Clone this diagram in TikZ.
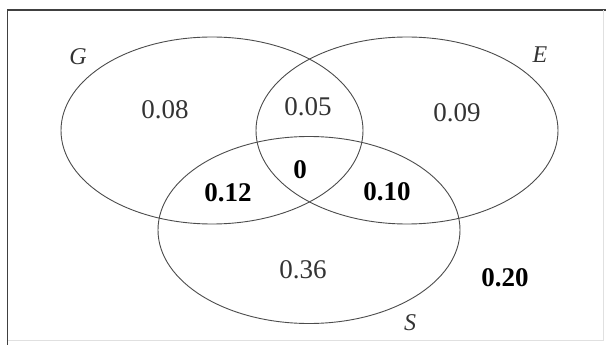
\documentclass[tikz,border=0pt]{standalone}
\usepackage{fontspec}
\setmainfont{Liberation Serif}
\usetikzlibrary{shapes.geometric}
\begin{document}
\begin{tikzpicture}[x=1pt,y=-1pt,
  setoval/.style={ellipse,draw=black!70,line width=0.9pt,minimum width=302pt,minimum height=187pt,inner sep=0pt},
  setname/.style={font=\fontsize{24}{24}\selectfont\itshape,text=black!80,inner sep=0pt},
  valreg/.style={font=\fontsize{27}{27}\selectfont,text=black!80,inner sep=0pt},
  valbold/.style={font=\fontsize{27}{27}\selectfont\bfseries,text=black,inner sep=0pt}]
\useasboundingbox (0,0) rectangle (606,345);
\fill[white] (0,0) rectangle (606,345);
\draw[black!75,line width=1.2pt] (7.5,345) -- (7.5,10) -- (606,10);
\draw[black!12,line width=0.8pt] (603,10) -- (603,340) -- (7.5,340);
\node[setoval] (G) at (212,130.5) {};
\node[setoval] (E) at (407,130.5) {};
\node[setoval] (S) at (309,230) {};
\node[setname] (lG) at (78,57) {G};
\node[setname] (lE) at (540,55) {E};
\node[setname] (lS) at (410,323) {S};
\node[valreg] (g) at (165,110) {0.08};
\node[valreg] (ge) at (308,107) {0.05};
\node[valreg] (e) at (457,113) {0.09};
\node[valbold] (ges) at (300,170) {0};
\node[valbold] (gs) at (228,193) {0.12};
\node[valbold] (es) at (387,192) {0.10};
\node[valreg] (s) at (303,270) {0.36};
\node[valbold] (none) at (505,278) {0.20};
\end{tikzpicture}
\end{document}
